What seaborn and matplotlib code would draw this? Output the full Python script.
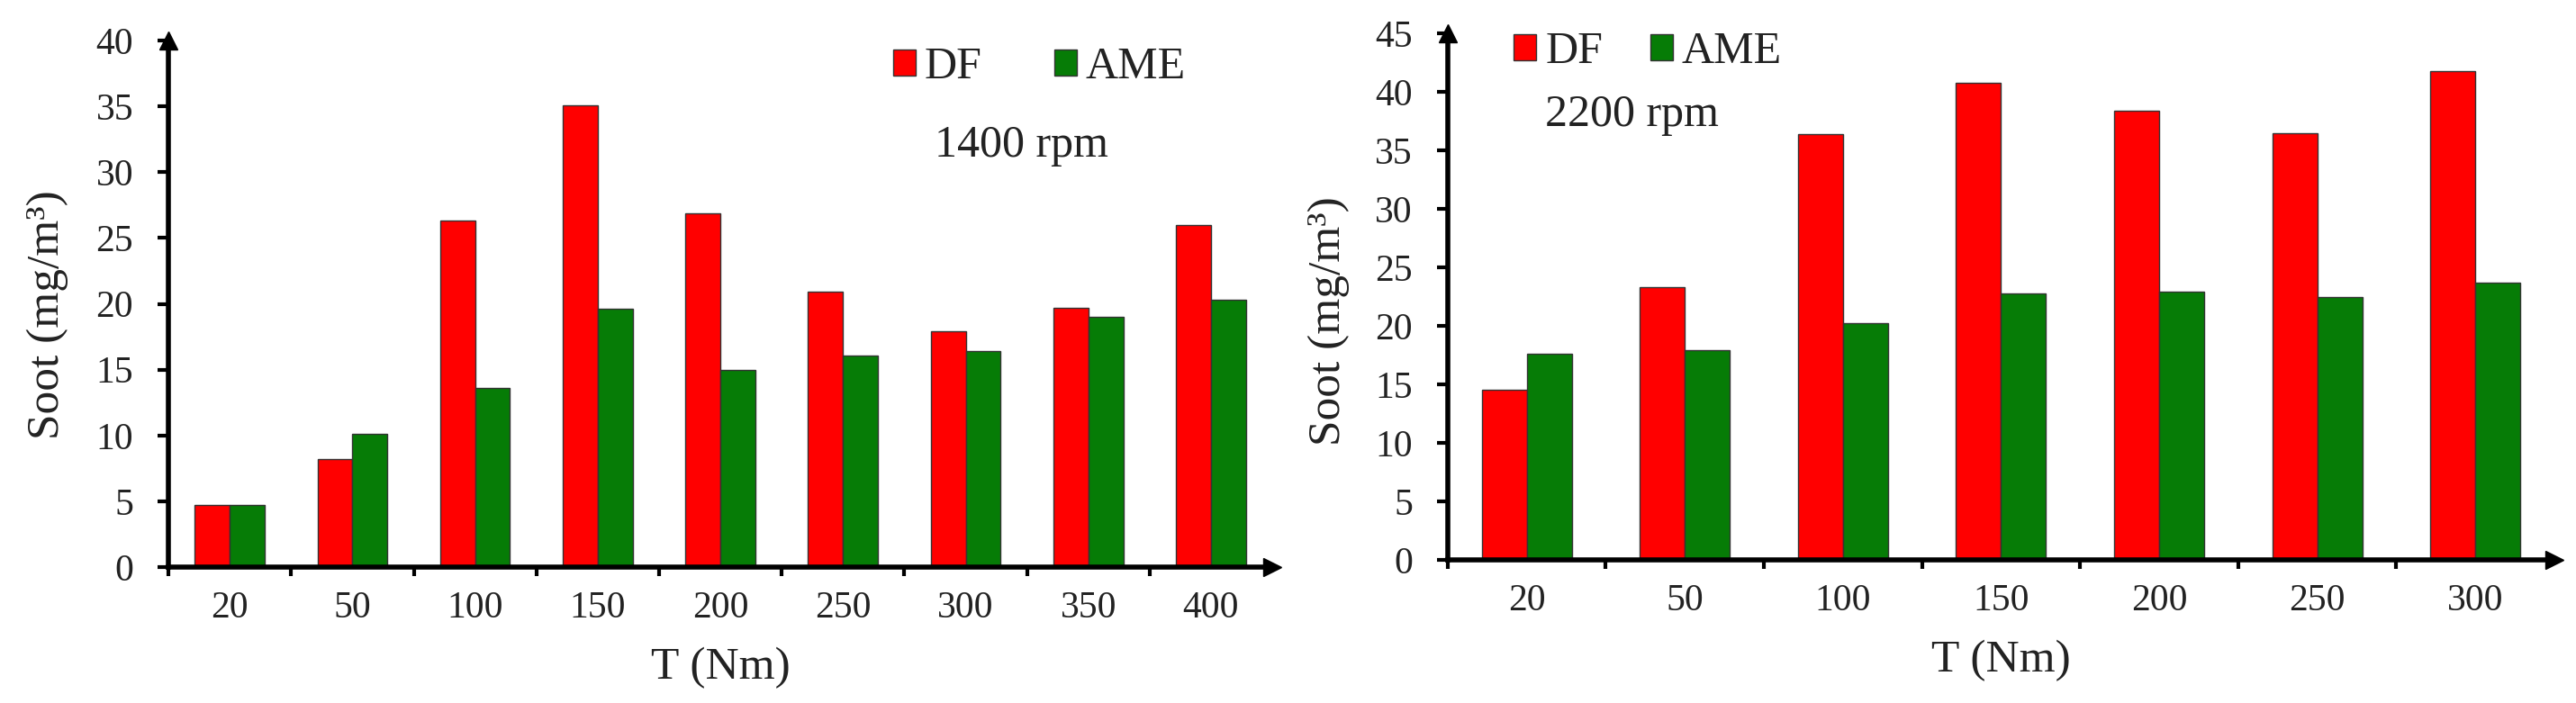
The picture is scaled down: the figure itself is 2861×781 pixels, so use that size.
import matplotlib
matplotlib.use('Agg')
import matplotlib.pyplot as plt
import numpy as np
import pandas as pd
import seaborn as sns

# soot emission
torque_1400 = ['20', '50', '100', '150', '200', '250', '300', '350', '400']
df_1400 = [4.7, 8.2, 26.3, 35.1, 26.9, 20.9, 17.9, 19.7, 26.0]
ame_1400 = [4.7, 10.1, 13.6, 19.6, 15.0, 16.1, 16.4, 19.0, 20.3]

torque_2200 = ['20', '50', '100', '150', '200', '250', '300']
df_2200 = [14.5, 23.3, 36.4, 40.8, 38.4, 36.5, 41.8]
ame_2200 = [17.6, 17.9, 20.2, 22.8, 22.9, 22.5, 23.7]

fuels = ['DF', 'AME']
colors = {'DF': '#FF0000', 'AME': '#067C06'}

sns.set_style('ticks')
plt.rcParams['font.family'] = ['Liberation Serif', 'DejaVu Serif']
plt.rcParams['text.color'] = '#222222'
plt.rcParams['axes.labelcolor'] = '#222222'
plt.rcParams['xtick.color'] = '#000000'
plt.rcParams['ytick.color'] = '#000000'
plt.rcParams['xtick.labelcolor'] = '#222222'
plt.rcParams['ytick.labelcolor'] = '#222222'


def draw_panel(ax, torque, df_vals, ame_vals, ymax, rpm_text, leg_xy, colspace, rpm_xy, ylab_xy):
    data = pd.DataFrame({
        'T': torque + torque,
        'Fuel': ['DF'] * len(torque) + ['AME'] * len(torque),
        'Soot': df_vals + ame_vals,
    })
    sns.barplot(data=data, x='T', y='Soot', hue='Fuel', hue_order=fuels,
                order=torque, palette=colors, saturation=1, width=0.57, gap=0,
                edgecolor='#333333', linewidth=1.0, ax=ax)
    n = len(torque)
    ax.set_xlim(-0.5, n - 0.5)
    ax.set_ylim(0, ymax)
    ax.set_yticks(np.arange(0, ymax + 1, 5))
    ax.set_xticks(range(n))
    ax.set_xticklabels(torque)
    ax.set_xticks(np.arange(-0.5, n - 1), minor=True)
    ax.tick_params(axis='x', which='major', length=0, pad=19, labelsize=30)
    ax.tick_params(axis='x', which='minor', length=7, width=3, direction='out')
    ax.tick_params(axis='y', length=9, width=3, pad=19, labelsize=30)

    for s in ['top', 'right']:
        ax.spines[s].set_visible(False)
    for s in ['left', 'bottom']:
        ax.spines[s].set_linewidth(4)
        ax.spines[s].set_color('black')
    # arrow heads at the ends of the axes
    ax.plot(1, 0, '>', color='black', ms=15, transform=ax.transAxes, clip_on=False)
    ax.plot(0, 1, '^', color='black', ms=15, transform=ax.transAxes, clip_on=False)

    ax.set_xlabel('T (Nm)', fontsize=37, labelpad=17)
    ax.set_ylabel('Soot (mg/m³)', fontsize=37)
    ax.yaxis.set_label_coords(*ylab_xy)

    handles, labels = ax.get_legend_handles_labels()
    ax.legend(handles, labels, loc='center left', bbox_to_anchor=leg_xy,
              bbox_transform=ax.figure.transFigure, ncol=2, frameon=False,
              fontsize=36, handlelength=0.5, handleheight=0.5,
              handletextpad=0.2, columnspacing=colspace,
              borderpad=0, borderaxespad=0)
    ax.figure.text(rpm_xy[0], rpm_xy[1], rpm_text, fontsize=36,
                   ha='left', va='center')


fig = plt.figure(figsize=(28.61, 7.81), dpi=100)
ax1 = fig.add_axes([0.0654, 0.1933, 0.4285, 0.749])
ax2 = fig.add_axes([0.562, 0.2036, 0.4296, 0.749])

draw_panel(ax1, torque_1400, df_1400, ame_1400, 40, '1400 rpm',
           (0.3467, 0.904), 1.6, (0.3628, 0.7926), (-0.0905, 0.479))
draw_panel(ax2, torque_2200, df_2200, ame_2200, 45, '2200 rpm',
           (0.5876, 0.9257), 1.06, (0.5998, 0.837), (-0.0887, 0.453))

fig.savefig('out.png', dpi=100, facecolor='white')
